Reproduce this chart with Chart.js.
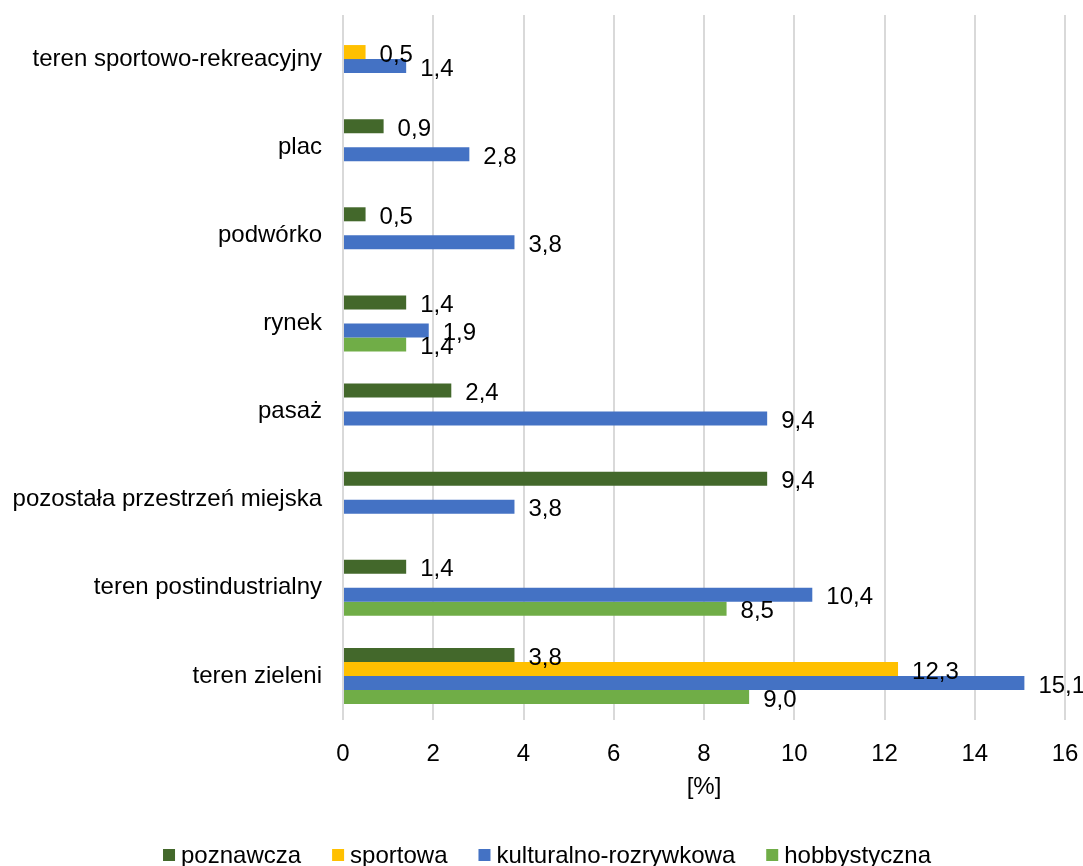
<!DOCTYPE html>
<html>
<head>
<meta charset="utf-8">
<script src="https://cdn.jsdelivr.net/npm/chart.js@4"></script>
<style>
  body { margin: 0; background: #fff; }
  #wykres { display: block; }
</style>
</head>
<body>
<canvas id="wykres" width="1083" height="866"></canvas>
<script>
const kategorie = [
  'teren sportowo-rekreacyjny',
  'plac',
  'podwórko',
  'rynek',
  'pasaż',
  'pozostała przestrzeń miejska',
  'teren postindustrialny',
  'teren zieleni'
];
const poznawcza = [null, 0.9, 0.5, 1.4, 2.4, 9.4, 1.4, 3.8];
const sportowa = [0.5, null, null, null, null, null, null, 12.3];
const kulturalnoRozrywkowa = [1.4, 2.8, 3.8, 1.9, 9.4, 3.8, 10.4, 15.1];
const hobbystyczna = [null, null, null, 1.4, null, null, 8.5, 9.0];
const ticksX = [0, 2, 4, 6, 8, 10, 12, 14, 16];

const czcionka = '"Liberation Sans", Arial, sans-serif';
const rozmiar = 24;

// etykiety wartości obok słupków
const etykiety = {
  id: 'etykiety',
  afterDatasetsDraw(chart) {
    const ctx = chart.ctx;
    ctx.save();
    ctx.font = rozmiar + 'px ' + czcionka;
    ctx.fillStyle = '#000';
    ctx.textBaseline = 'middle';
    ctx.textAlign = 'left';
    chart.data.datasets.forEach(function (ds, i) {
      const meta = chart.getDatasetMeta(i);
      meta.data.forEach(function (bar, j) {
        const v = ds.data[j];
        if (v === null || v === undefined) return;
        ctx.fillText(v.toFixed(1).replace('.', ','), bar.x + 14, bar.y + 3);
      });
    });
    ctx.restore();
  }
};

// legenda rysowana ręcznie (odstępy jak w Excelu)
const legenda = {
  id: 'legenda',
  afterDraw(chart) {
    const ctx = chart.ctx;
    const y = 855;
    ctx.save();
    ctx.font = rozmiar + 'px ' + czcionka;
    ctx.textBaseline = 'middle';
    ctx.textAlign = 'left';
    const elementy = chart.data.datasets.map(ds => ({
      tekst: ds.label,
      kolor: ds.backgroundColor,
      szer: ctx.measureText(ds.label).width
    }));
    let calosc = 0;
    elementy.forEach((e, i) => { calosc += 12 + 6 + e.szer + (i < elementy.length - 1 ? 31 : 0); });
    let x = 547 - calosc / 2;
    elementy.forEach(e => {
      ctx.fillStyle = e.kolor;
      ctx.fillRect(x, y - 6, 12, 12);
      ctx.fillStyle = '#000';
      ctx.fillText(e.tekst, x + 18, y + 1);
      x += 12 + 6 + e.szer + 31;
    });
    ctx.restore();
  }
};

new Chart(document.getElementById('wykres'), {
  type: 'bar',
  data: {
    labels: kategorie,
    datasets: [
      { label: 'poznawcza', data: poznawcza, backgroundColor: '#43682B' },
      { label: 'sportowa', data: sportowa, backgroundColor: '#FFC000' },
      { label: 'kulturalno-rozrywkowa', data: kulturalnoRozrywkowa, backgroundColor: '#4472C4' },
      { label: 'hobbystyczna', data: hobbystyczna, backgroundColor: '#70AD47' }
    ]
  },
  options: {
    indexAxis: 'y',
    responsive: false,
    animation: false,
    layout: { padding: { top: 15, right: 18, left: 0, bottom: 64 } },
    datasets: { bar: { categoryPercentage: 0.636, barPercentage: 1.0 } },
    scales: {
      x: {
        min: 0,
        max: 16,
        afterBuildTicks(axis) { axis.ticks = ticksX.map(v => ({ value: v })); },
        afterFit(scale) {
          scale.height = 82;
          scale.paddingLeft = 0;
          scale.paddingRight = 0;
        },
        grid: { color: '#d9d9d9', lineWidth: 2, drawTicks: false },
        border: { display: false },
        ticks: { color: '#000', font: { size: rozmiar, family: czcionka }, padding: 20 },
        title: { display: true, text: '[%]', color: '#000', font: { size: rozmiar, family: czcionka }, padding: { top: 0, bottom: 0 } }
      },
      y: {
        afterFit(scale) {
          scale.width = 343;
          scale.paddingTop = 0;
          scale.paddingBottom = 0;
        },
        grid: { display: false, drawTicks: false },
        border: { display: false },
        ticks: { color: '#000', font: { size: rozmiar, family: czcionka }, padding: 21 }
      }
    },
    plugins: {
      legend: { display: false },
      tooltip: { enabled: false }
    }
  },
  plugins: [etykiety, legenda]
});
</script>
</body>
</html>
